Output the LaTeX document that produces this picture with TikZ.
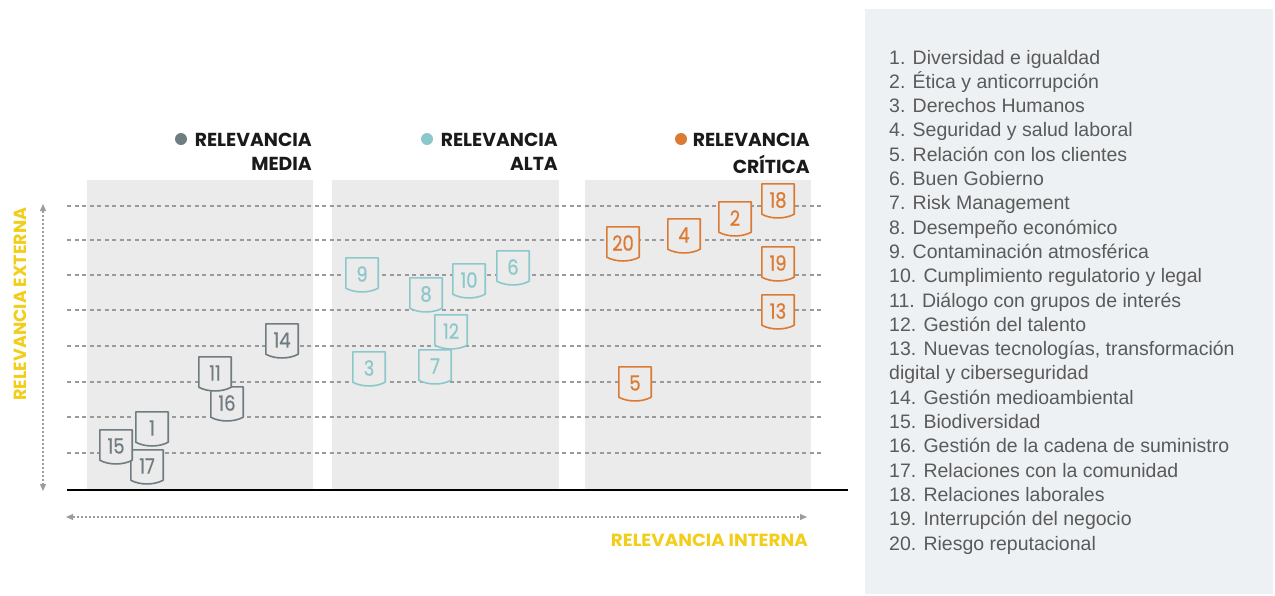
\documentclass[tikz,border=0pt]{standalone}
\usepackage{graphicx}
\usepackage{fontspec}
\setmainfont{Liberation Sans}
\newfontfamily\popfont{Poppins}
\newfontfamily\popnum{Poppins}[FakeBold=0.6]
\usetikzlibrary{arrows.meta}
\definecolor{panel}{HTML}{EBEBEB}
\definecolor{legbg}{HTML}{EEF1F3}
\definecolor{legtxt}{HTML}{5A5A5A}
\definecolor{cgrey}{HTML}{6F7C82}
\definecolor{cteal}{HTML}{8CC8CB}
\definecolor{corange}{HTML}{DD7A32}
\definecolor{cyellow}{HTML}{F2CE1B}
\definecolor{gridc}{HTML}{9A9A9A}
\definecolor{axisc}{HTML}{9C9C9C}
\definecolor{headc}{HTML}{1A1A1A}
\tikzset{
  mkbox/.style={minimum width=32pt, minimum height=30pt, inner sep=0pt, draw=none},
  mknum/.style={inner sep=0pt, text=#1, font=\popnum\fontsize{21}{21}\selectfont},
  mkline/.style={fill=panel, draw=#1, line width=1.6pt, line join=round},
  gridline/.style={draw=gridc, line width=1.1pt, dash pattern=on 4pt off 3.5pt},
  axisarrow/.style={draw=axisc, line width=1.2pt, dash pattern=on 2pt off 2pt, {Triangle[length=7pt,width=6pt]}-{Triangle[length=7pt,width=6pt]}},
  headtext/.style={anchor=east, inner sep=0pt, text=headc, font=\popfont\bfseries\fontsize{18.8}{18.8}\selectfont},
  axislabel/.style={inner sep=0pt, text=cyellow, font=\popfont\bfseries\fontsize{17.6}{17.6}\selectfont},
  legitem/.style={anchor=base west, inner sep=0pt, text=legtxt, font=\fontsize{19.5}{24.3}\selectfont},
  panelbox/.style={fill=panel, draw=none}
}
\newcommand\marker[5]{%
  \node[mkbox] (#1) at (#2,#3) {};
  \path[mkline=#5] (#1.north west) -- (#1.south west) .. controls +(9,5) and +(-9,5) .. (#1.south east) -- (#1.north east) -- cycle;
  \node[mknum=#5] (#1t) at ([yshift=-1pt]#1.center) {\scalebox{0.86}[1]{#4}};
}
\begin{document}
\begin{tikzpicture}[x=1pt,y=-1pt]
\useasboundingbox (0,0) rectangle (1275,595);
% legend background
\fill[legbg] (865,9) rectangle (1273,594);
% panels
\path[panelbox] (87,180) rectangle (313,490);
\path[panelbox] (332,180) rectangle (559,490);
\path[panelbox] (585,180) rectangle (811,490);
% grid lines
\foreach \yy [count=\i] in {206,240,275,310,346,382,417,453}{
  \coordinate (gl\i) at (67,\yy);
  \coordinate (gr\i) at (822,\yy);
  \draw[gridline] (gl\i) -- (gr\i);
}
% baseline
\coordinate (b0) at (67,490);
\coordinate (b1) at (848,490);
\draw[black, line width=2pt] (b0) -- (b1);
% axes
\coordinate (va) at (43,204);
\coordinate (vb) at (43,491);
\draw[axisarrow] (va) -- (vb);
\coordinate (ha) at (66,517);
\coordinate (hb) at (807,517);
\draw[axisarrow] (ha) -- (hb);
\node[axislabel, rotate=90] (ylab) at (20,304) {RELEVANCIA EXTERNA};
\node[axislabel, anchor=east] (xlab) at (808,540) {\scalebox{1.04}[1]{RELEVANCIA INTERNA}};
% headers
\node[headtext] (h1a) at (312,140) {RELEVANCIA};
\node[headtext] (h1b) at (312,164) {MEDIA};
\fill[cgrey] (181,139) circle (6);
\node[headtext] (h2a) at (558,140) {RELEVANCIA};
\node[headtext] (h2b) at (558,164) {ALTA};
\fill[cteal] (427,139) circle (6);
\node[headtext] (h3a) at (810,140) {RELEVANCIA};
\node[headtext] (h3b) at (810,164) {CRÍTICA};
\fill[corange] (681,139) circle (6);
% grey markers
\marker{m14}{282}{339}{14}{cgrey}
\marker{m16}{227}{402}{16}{cgrey}
\marker{m11}{215}{372}{11}{cgrey}
\marker{m17}{147}{465}{17}{cgrey}
\marker{m15}{116}{445}{15}{cgrey}
\marker{m1}{152}{427}{1}{cgrey}
% teal markers
\marker{m9}{362}{273}{9}{cteal}
\marker{m3}{369}{367}{3}{cteal}
\marker{m8}{426}{293}{8}{cteal}
\marker{m10}{469}{279}{10}{cteal}
\marker{m6}{513}{266}{6}{cteal}
\marker{m7}{435}{365}{7}{cteal}
\marker{m12}{451}{330}{12}{cteal}
% orange markers
\marker{m18}{778}{199}{18}{corange}
\marker{m2}{735}{217}{2}{corange}
\marker{m4}{684}{234}{4}{corange}
\marker{m20}{623}{242}{20}{corange}
\marker{m19}{778}{262}{19}{corange}
\marker{m13}{778}{310}{13}{corange}
\marker{m5}{635}{382}{5}{corange}
% legend
\foreach \txt [count=\k from 0] in {
  {1. Diversidad e igualdad},
  {2. Ética y anticorrupción},
  {3. Derechos Humanos},
  {4. Seguridad y salud laboral},
  {5. Relación con los clientes},
  {6. Buen Gobierno},
  {7. Risk Management},
  {8. Desempeño económico},
  {9. Contaminación atmosférica},
  {10. Cumplimiento regulatorio y legal},
  {11. Diálogo con grupos de interés},
  {12. Gestión del talento},
  {13. Nuevas tecnologías, transformación},
  {digital y ciberseguridad},
  {14. Gestión medioambiental},
  {15. Biodiversidad},
  {16. Gestión de la cadena de suministro},
  {17. Relaciones con la comunidad},
  {18. Relaciones laborales},
  {19. Interrupción del negocio},
  {20. Riesgo reputacional}}{
  \node[legitem] (leg\k) at (889,{64+24.3*\k}) {\txt};
}
\end{tikzpicture}
\end{document}
